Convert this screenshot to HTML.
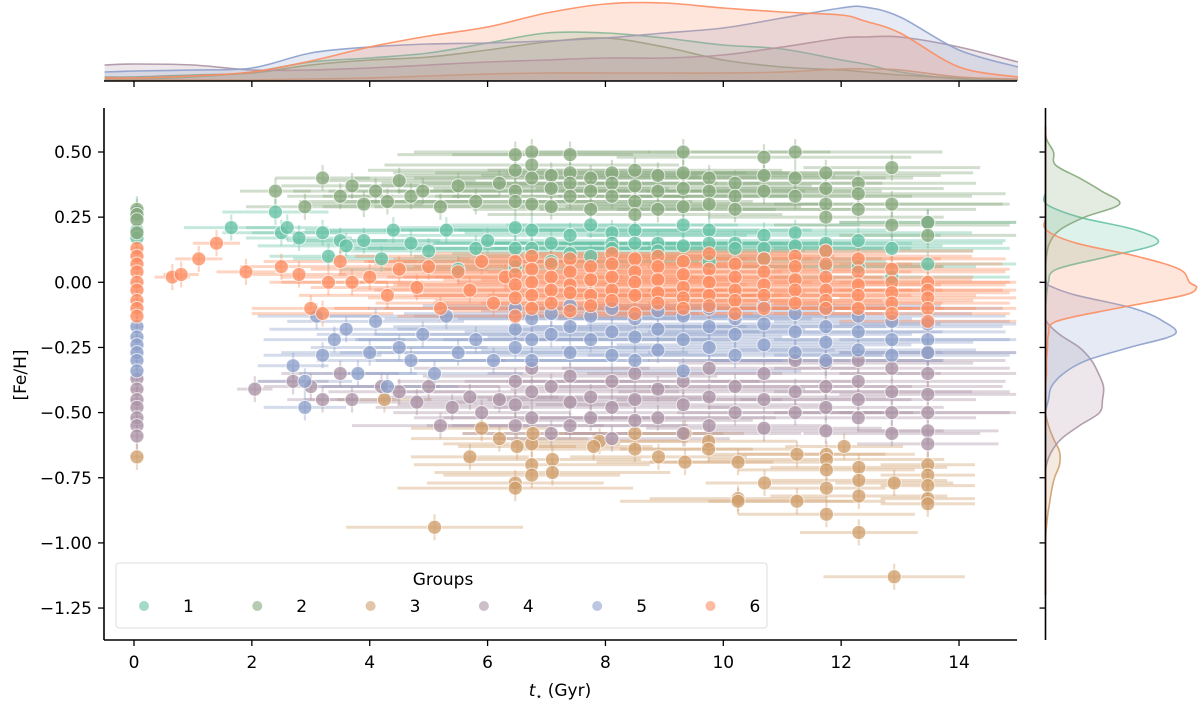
<!DOCTYPE html>
<html><head><meta charset="utf-8"><style>
html,body{margin:0;padding:0;background:#fff;}
svg{display:block;font-family:"DejaVu Sans","Liberation Sans",sans-serif;}
</style></head><body>
<svg id="chart" width="1200" height="702" viewBox="0 0 1200 702" xmlns="http://www.w3.org/2000/svg">
<g id="topM"></g>
<g id="rightM"></g>
<g id="main"></g>
<g id="axes"></g>
<g id="legend"></g>
</svg>
<script>
const groups = ["1","2","3","4","5","6"];
const colors = ["#66c2a5","#86a87c","#cf9f6c","#ab93a5","#8da0cb","#fc8d62"];
const xTicks = [0,2,4,6,8,10,12,14];
const yTicks = [0.5,0.25,0,-0.25,-0.5,-0.75,-1.0,-1.25];
const yTickLabels = ["0.50","0.25","0.00","\u22120.25","\u22120.50","\u22120.75","\u22121.00","\u22121.25"];

// top marginal KDE heights (px above baseline) at kdeAges
const kdeAges = [-0.5,0,1,2,3,4,5,6,7,8,9,10,11,12,12.4,13,14,15];
const topK1 = [2,2,4,9,19,23,28,38,48,48,43,36,32,21,17,9,2,1];
const topK2 = [4,4,6,8,16,21,24,31,39,43,34,21,14,11,9,6,3,1];
const topK3 = [1,1,1,1,2,3,5,7,8,8,8,8,9,12,12,11,4,2];
const topK4 = [16,17,16,11,11,13,16,19,21,23,23,26,34,43,44,44,34,19];
const topK5 = [9,10,11,13,28,34,37,38,40,43,48,53,63,73,74,64,31,14];
const topK6 = [3,3,5,9,20,34,45,54,68,77,78,73,69,66,60,48,14,4];

// right marginal KDE widths at fehs
const kdeFeh = [0.6,0.55,0.5,0.45,0.4,0.35,0.3,0.25,0.2,0.15,0.1,0.05,0,-0.02,-0.05,-0.1,-0.15,-0.2,-0.25,-0.3,-0.35,-0.4,-0.45,-0.5,-0.55,-0.6,-0.65,-0.7,-0.75,-0.8,-0.85,-0.9,-1.0,-1.2];
const rK1 = [0,0,0,0,0,0,1,34,91,112,64,11,3,2,1,0,0,0,0,0,0,0,0,0,0,0,0,0,0,0,0,0,0,0];
const rK2 = [0,1,8,10,34,56,74,39,14,4,1,0,0,0,0,0,0,0,0,0,0,0,0,0,0,0,0,0,0,0,0,0,0,0];
const rK3 = [0,0,0,0,0,0,0,0,0,0,0,0,0,0,0,0,0,0,0,0,0,0,0,0,3,8,14,14,9,6,4,2,0,0];
const rK4 = [0,0,0,0,0,0,0,0,0,0,0,0,0,0,0,0,1,14,34,46,53,58,57,54,34,16,6,1,0,0,0,0,0,0];
const rK5 = [0,0,0,0,0,0,0,0,0,0,0,0,1,8,31,88,118,129,84,41,18,6,3,0,0,0,0,0,0,0,0,0,0,0];
const rK6 = [0,0,0,0,0,0,0,0,1,31,91,134,144,151,138,71,11,3,2,1,1,0,0,0,0,0,0,0,0,0,0,0,0,0];

// scatter points: [age, feh, age error]
const g1 = [[0.05,0.27,0.1],[0.05,0.25,0.1],[0.05,0.20,0.1],[0.05,0.17,0.1],[1.65,0.21,0.8],[2.4,0.27,0.9],[2.5,0.19,1.0],[2.6,0.21,0.7],[2.8,0.17,0.9],[3.2,0.19,1.2],[3.5,0.16,0.8],[3.3,0.10,1.0],[3.6,0.14,1.5],[3.9,0.16,1.3],[4.2,0.09,1.5],[4.4,0.20,1.5],[4.7,0.15,2],[5.0,0.12,1.5],[5.3,0.20,2],[5.5,0.05,2],[5.8,0.13,2.2],[6.0,0.16,2],
[6.47,0.21,2],[6.47,0.13,2.5],[6.47,0.06,2],[6.75,0.20,2.5],[6.75,0.13,3],[7.08,0.15,2],[7.08,0.08,2.5],[7.4,0.18,3],[7.4,0.11,2],[7.75,0.22,2.5],[7.75,0.10,3],[8.11,0.19,2.5],[8.11,0.15,3],[8.11,0.13,2],[8.5,0.20,3],[8.5,0.15,2.5],[8.89,0.15,3],[8.89,0.12,2.5],[9.32,0.22,3],[9.32,0.14,2.5],[9.76,0.20,3],[9.76,0.15,2.5],[9.76,0.08,3],[10.2,0.15,3],[10.2,0.13,2.5],[10.69,0.18,3],[10.69,0.13,2.5],[10.69,0.09,2],[11.22,0.19,3],[11.22,0.14,2.5],[11.74,0.15,3],[11.74,0.12,2.5],[11.74,0.06,2],[12.29,0.16,2.5],[12.29,0.06,2],[12.86,0.13,2],[12.86,0.02,2],[13.47,0.23,1.5],[13.47,0.07,1.5]];
const g2 = [[0.05,0.28,0.1],[0.05,0.26,0.1],[0.05,0.24,0.1],[0.05,0.19,0.1],[2.4,0.35,0.6],[2.9,0.29,1],[3.2,0.40,0.8],[3.5,0.33,0.9],[3.7,0.37,1.2],[3.9,0.30,1],[4.1,0.35,1.4],[4.3,0.31,1.5],[4.5,0.39,1.3],[4.7,0.33,1.5],[4.9,0.35,1.6],[5.2,0.29,2],[5.5,0.37,1.8],[5.8,0.31,2],[6.2,0.38,2],
[6.47,0.49,2],[6.47,0.43,2.5],[6.47,0.35,2],[6.47,0.31,3],[6.75,0.50,2],[6.75,0.45,2.5],[6.75,0.40,3],[6.75,0.30,2],[7.08,0.41,2.5],[7.08,0.36,2],[7.08,0.29,3],[7.4,0.49,2],[7.4,0.42,3],[7.4,0.38,2.5],[7.4,0.33,2],[7.75,0.40,3],[7.75,0.35,2.5],[7.75,0.28,2],[8.11,0.42,3],[8.11,0.38,2.5],[8.11,0.33,3],[8.5,0.43,2.5],[8.5,0.37,3],[8.5,0.31,2],[8.5,0.26,2.5],[8.89,0.41,3],[8.89,0.35,2.5],[8.89,0.28,2],[9.32,0.50,2.5],[9.32,0.42,3],[9.32,0.36,2.5],[9.32,0.29,2],[9.76,0.40,3],[9.76,0.35,2.5],[9.76,0.30,2],[10.2,0.38,2.5],[10.2,0.33,3],[10.2,0.28,2],[10.69,0.48,2.5],[10.69,0.41,3],[10.69,0.35,2],[11.22,0.50,2.5],[11.22,0.40,2],[11.22,0.33,3],[11.74,0.42,2.5],[11.74,0.36,2],[11.74,0.30,3],[11.74,0.25,2],[12.29,0.38,2],[12.29,0.34,2.5],[12.29,0.28,2],[12.86,0.44,1.5],[12.86,0.30,2],[12.86,0.22,2],[13.47,0.23,1.5],[13.47,0.18,1.5]];
const g3 = [[0.05,-0.67,0.1],[4.25,-0.45,0.8],[5.1,-0.94,1.5],[5.7,-0.67,1],[5.9,-0.56,1.2],[6.2,-0.60,1.5],[6.47,-0.77,1.5],[6.47,-0.79,2],[6.5,-0.63,1],[6.75,-0.62,1.5],[6.75,-0.70,2],[6.75,-0.74,1.5],[6.77,-0.58,1.2],[7.1,-0.68,1.5],[7.1,-0.73,2],[7.9,-0.61,1.5],[7.8,-0.63,1],[8.5,-0.58,1.5],[8.5,-0.64,2],[8.9,-0.67,1.5],[9.35,-0.69,1.5],[9.35,-0.58,1],[9.75,-0.61,1.5],[9.75,-0.64,1.5],[10.25,-0.83,1.5],[10.25,-0.84,2],[10.25,-0.69,1.5],[10.7,-0.77,1],[11.25,-0.84,1.5],[11.25,-0.66,1.5],[11.75,-0.66,1.5],[11.75,-0.68,2],[11.75,-0.72,1.5],[11.75,-0.79,1],[11.75,-0.89,1.5],[12.05,-0.63,1],[12.3,-0.71,1.5],[12.3,-0.76,1.5],[12.3,-0.82,1.5],[12.3,-0.96,1],[12.9,-0.77,1],[12.9,-1.13,1.2],[13.47,-0.70,0.8],[13.47,-0.74,0.8],[13.47,-0.78,0.8],[13.47,-0.83,0.8],[13.47,-0.85,0.8]];
const g4 = [[0.05,-0.37,0.1],[0.05,-0.41,0.1],[0.05,-0.45,0.1],[0.05,-0.48,0.1],[0.05,-0.52,0.1],[0.05,-0.55,0.1],[0.05,-0.59,0.1],[2.05,-0.41,0.3],[2.7,-0.38,0.6],[3.0,-0.40,0.8],[3.2,-0.45,0.6],[3.5,-0.35,1],[3.7,-0.45,0.8],[4.2,-0.40,1],[4.5,-0.42,1.2],[4.8,-0.46,1],[5.0,-0.40,1.2],[5.2,-0.55,1.5],[5.4,-0.48,1.3],[5.7,-0.44,1.5],[5.9,-0.50,1.5],[6.2,-0.45,1.5],
[6.47,-0.38,2],[6.47,-0.47,2],[6.47,-0.55,1.5],[6.75,-0.33,2],[6.75,-0.42,2.5],[6.75,-0.52,2],[7.08,-0.40,2],[7.08,-0.58,1.5],[7.4,-0.36,2.5],[7.4,-0.46,2],[7.4,-0.55,2],[7.75,-0.44,2],[7.75,-0.52,2.5],[8.11,-0.38,2.5],[8.11,-0.48,2],[8.11,-0.60,2],[8.5,-0.35,2.5],[8.5,-0.45,2.5],[8.5,-0.53,2],[8.89,-0.41,2.5],[8.89,-0.52,2],[9.32,-0.38,3],[9.32,-0.47,2.5],[9.32,-0.58,2],[9.76,-0.33,2.5],[9.76,-0.44,3],[9.76,-0.55,2],[10.2,-0.40,3],[10.2,-0.50,2.5],[10.69,-0.35,3],[10.69,-0.45,2.5],[10.69,-0.56,2],[11.22,-0.30,2.5],[11.22,-0.42,3],[11.22,-0.50,2],[11.74,-0.31,2.5],[11.74,-0.40,3],[11.74,-0.48,2],[11.74,-0.57,2],[12.29,-0.30,2.5],[12.29,-0.38,2.5],[12.29,-0.45,2],[12.29,-0.52,2],[12.86,-0.33,2],[12.86,-0.42,2],[12.86,-0.50,2],[12.86,-0.58,1.5],[13.47,-0.27,1.5],[13.47,-0.35,1.5],[13.47,-0.43,1.5],[13.47,-0.50,1.5],[13.47,-0.57,1.2],[13.47,-0.62,1.2]];
const g5 = [[0.05,-0.17,0.1],[0.05,-0.21,0.1],[0.05,-0.24,0.1],[0.05,-0.27,0.1],[0.05,-0.30,0.1],[0.05,-0.34,0.1],[2.7,-0.32,0.6],[2.9,-0.48,0.7],[2.9,-0.38,0.8],[3.1,-0.13,1],[3.2,-0.28,1],[3.4,-0.22,1.2],[3.6,-0.18,1.3],[3.8,-0.35,1],[4.0,-0.27,1.5],[4.1,-0.15,1.5],[4.3,-0.40,1.2],[4.5,-0.25,1.5],[4.7,-0.30,1.6],[4.9,-0.20,1.8],[5.1,-0.35,1.5],[5.3,-0.13,2],[5.5,-0.27,2],[5.8,-0.22,2],[6.1,-0.30,2],
[6.47,-0.10,2.5],[6.47,-0.18,2],[6.47,-0.25,2.5],[6.75,-0.14,2.5],[6.75,-0.22,3],[6.75,-0.30,2],[7.08,-0.12,2.5],[7.08,-0.20,3],[7.4,-0.09,2.5],[7.4,-0.17,3],[7.4,-0.27,2],[7.75,-0.13,3],[7.75,-0.22,2.5],[8.11,-0.10,3],[8.11,-0.19,2.5],[8.11,-0.28,2],[8.5,-0.14,3],[8.5,-0.21,2.5],[8.5,-0.30,2.5],[8.89,-0.11,3],[8.89,-0.18,2.5],[8.89,-0.26,3],[9.32,-0.13,3],[9.32,-0.22,2.5],[9.32,-0.34,2],[9.76,-0.10,3],[9.76,-0.17,3],[9.76,-0.25,2.5],[10.2,-0.14,3],[10.2,-0.20,3],[10.2,-0.28,2.5],[10.69,-0.09,3],[10.69,-0.16,3],[10.69,-0.24,2.5],[11.22,-0.12,3],[11.22,-0.19,2.5],[11.22,-0.27,2.5],[11.74,-0.10,3],[11.74,-0.17,3],[11.74,-0.23,2.5],[11.74,-0.30,2],[12.29,-0.13,2.5],[12.29,-0.19,2.5],[12.29,-0.26,2],[12.86,-0.15,2],[12.86,-0.22,2],[12.86,-0.28,2],[13.47,-0.16,1.5],[13.47,-0.22,1.5],[13.47,-0.27,1.5]];
const g6 = [[0.05,0.13,0.1],[0.05,0.10,0.1],[0.05,0.07,0.1],[0.05,0.04,0.1],[0.05,0.0,0.1],[0.05,-0.03,0.1],[0.05,-0.07,0.1],[0.05,-0.10,0.1],[0.05,-0.13,0.1],[0.65,0.02,0.3],[0.8,0.03,0.3],[1.1,0.09,0.4],[1.4,0.15,0.4],[1.9,0.04,0.5],[2.5,0.06,0.7],[2.8,0.03,0.8],[3.3,0.0,1],[3.0,-0.10,1],[3.2,-0.12,1.2],[3.5,0.08,1.3],[3.7,0.0,1.2],[4.0,0.02,1.5],[4.3,-0.05,1.5],[4.5,0.05,1.5],[4.8,-0.02,1.8],[5.0,0.06,1.8],[5.2,-0.10,1.8],[5.5,0.04,2],[5.7,-0.03,2],[5.9,0.08,2],[6.1,-0.08,2],[6.3,0.02,2],
[6.47,0.08,2.5],[6.47,0.03,3],[6.47,-0.01,2],[6.47,-0.06,2.5],[6.47,-0.13,2],[6.75,0.10,3],[6.75,0.05,2.5],[6.75,0.0,3],[6.75,-0.05,2],[6.75,-0.10,2.5],[7.08,0.07,3],[7.08,0.02,2.5],[7.08,-0.03,3],[7.08,-0.08,2],[7.4,0.09,3],[7.4,0.04,2.5],[7.4,-0.01,3],[7.4,-0.04,2.5],[7.4,-0.11,2],[7.75,0.06,3],[7.75,0.01,2.5],[7.75,-0.05,3],[7.75,-0.09,2.5],[8.11,0.11,3],[8.11,0.07,2.5],[8.11,0.02,3],[8.11,-0.03,2.5],[8.11,-0.07,3],[8.5,0.09,3],[8.5,0.04,2.5],[8.5,0.0,3],[8.5,-0.05,2.5],[8.5,-0.12,2],[8.89,0.10,3],[8.89,0.06,2.5],[8.89,0.01,3],[8.89,-0.04,2.5],[8.89,-0.08,3],[9.32,0.08,3],[9.32,0.03,2.5],[9.32,-0.02,3],[9.32,-0.06,2.5],[9.32,-0.10,3],[9.76,0.11,3],[9.76,0.05,2.5],[9.76,0.0,3],[9.76,-0.05,2.5],[9.76,-0.09,3],[10.2,0.07,3],[10.2,0.02,2.5],[10.2,-0.03,3],[10.2,-0.07,2.5],[10.2,-0.12,2.5],[10.69,0.09,3],[10.69,0.04,2.5],[10.69,-0.01,3],[10.69,-0.05,2.5],[10.69,-0.10,2.5],[11.22,0.10,3],[11.22,0.06,2.5],[11.22,0.01,3],[11.22,-0.03,2.5],[11.22,-0.08,2.5],[11.74,0.12,2.5],[11.74,0.07,3],[11.74,0.02,2.5],[11.74,-0.03,3],[11.74,-0.07,2.5],[11.74,-0.10,2],[12.29,0.09,2.5],[12.29,0.04,2.5],[12.29,-0.01,2.5],[12.29,-0.05,2],[12.29,-0.10,2],[12.86,0.05,2],[12.86,0.0,2],[12.86,-0.04,2],[12.86,-0.08,2],[12.86,-0.12,2],[13.47,0.0,1.5],[13.47,-0.03,1.5],[13.47,-0.06,1.5],[13.47,-0.10,1.5],[13.47,-0.15,1.5]];
const yErr = 0.05;

const NS = "http://www.w3.org/2000/svg";
const X = t => 134 + 58.93 * t;
const Y = f => 282.3 - 260.6 * f;
const TOPBASE = 81, RBASE = 1045.5;
function mk(tag, attrs, parent){const e=document.createElementNS(NS,tag);for(const k in attrs)e.setAttribute(k,attrs[k]);parent.appendChild(e);return e;}
function smooth(pts){let d="M"+pts[0][0]+","+pts[0][1];for(let i=0;i<pts.length-1;i++){const p0=pts[Math.max(0,i-1)],p1=pts[i],p2=pts[i+1],p3=pts[Math.min(pts.length-1,i+2)];const c1=[p1[0]+(p2[0]-p0[0])/6,p1[1]+(p2[1]-p0[1])/6],c2=[p2[0]-(p3[0]-p1[0])/6,p2[1]-(p3[1]-p1[1])/6];d+=" C"+c1[0].toFixed(1)+","+c1[1].toFixed(1)+" "+c2[0].toFixed(1)+","+c2[1].toFixed(1)+" "+p2[0].toFixed(1)+","+p2[1].toFixed(1);}return d;}

const topM=document.getElementById("topM"), rightM=document.getElementById("rightM"), main=document.getElementById("main"), axes=document.getElementById("axes"), legend=document.getElementById("legend");
const topSets=[topK1,topK2,topK3,topK4,topK5,topK6], rSets=[rK1,rK2,rK3,rK4,rK5,rK6], ptSets=[g1,g2,g3,g4,g5,g6];

topSets.forEach((arr,gi)=>{
  const pts=kdeAges.map((t,i)=>[X(t),TOPBASE-arr[i]]);
  const d=smooth(pts);
  const fill=mk("path",{d:d+" L"+X(15)+","+TOPBASE+" L"+X(-0.5)+","+TOPBASE+" Z",fill:colors[gi],"fill-opacity":0.22,stroke:"none"},topM);
  
  
  const ln=mk("path",{d:d,fill:"none",stroke:colors[gi],"stroke-width":1.6,"stroke-opacity":0.9},topM);
  
  
});
rSets.forEach((arr,gi)=>{
  const pts=kdeFeh.map((f,i)=>[RBASE+arr[i],Y(f)]);
  const d=smooth(pts);
  const fill=mk("path",{d:d+" L"+RBASE+","+Y(-1.2)+" L"+RBASE+","+Y(0.6)+" Z",fill:colors[gi],"fill-opacity":0.22,stroke:"none"},rightM);
  
  
  const ln=mk("path",{d:d,fill:"none",stroke:colors[gi],"stroke-width":1.6,"stroke-opacity":0.9},rightM);
  
  
});

// error bars
ptSets.forEach((arr,gi)=>{
  const g=mk("g",{},main);
  
  
  arr.forEach(p=>{
    const x1=Math.max(104,X(p[0]-p[2])), x2=Math.min(1017,X(p[0]+p[2]));
    const h=mk("line",{x1:x1,x2:x2,y1:Y(p[1]),y2:Y(p[1]),stroke:colors[gi],"stroke-width":3,"stroke-opacity":0.38},g);
    
    
    const v=mk("line",{x1:X(p[0]),x2:X(p[0]),y1:Y(p[1]-yErr),y2:Y(p[1]+yErr),stroke:colors[gi],"stroke-width":2.2,"stroke-opacity":0.38},g);
    
    
  });
});
ptSets.forEach((arr,gi)=>{
  const g=mk("g",{},main);
  
  
  arr.forEach(p=>{
    const c=mk("circle",{cx:X(p[0]),cy:Y(p[1]),r:7,fill:colors[gi],"fill-opacity":0.78,stroke:"#fff","stroke-opacity":0.7,"stroke-width":1},g);
    
    
  });
});

// axes
const sp=(x1,y1,x2,y2,n)=>{const l=mk("line",{x1,y1,x2,y2,stroke:"#000","stroke-width":1.6},axes);};
sp(104,108,104,640,'y-axis-spine');
sp(104,640,1017,640,'x-axis-spine');
sp(104,TOPBASE,1017,TOPBASE,'top-marginal-spine');
sp(RBASE,108,RBASE,640,'right-marginal-spine');
xTicks.forEach(t=>{
  mk("line",{x1:X(t),x2:X(t),y1:640,y2:646,stroke:"#000","stroke-width":1.3},axes);
  mk("line",{x1:X(t),x2:X(t),y1:TOPBASE,y2:TOPBASE+6,stroke:"#000","stroke-width":1.3},axes);
  const tx=mk("text",{x:X(t),y:668,"font-size":17,"text-anchor":"middle",fill:"#000"},axes);
  tx.textContent=t;
  
  
});
yTicks.forEach((f,i)=>{
  mk("line",{x1:98,x2:104,y1:Y(f),y2:Y(f),stroke:"#000","stroke-width":1.3},axes);
  mk("line",{x1:RBASE-6,x2:RBASE,y1:Y(f),y2:Y(f),stroke:"#000","stroke-width":1.3},axes);
  const tx=mk("text",{x:92,y:Y(f)+6,"font-size":17,"text-anchor":"end",fill:"#000"},axes);
  tx.textContent=yTickLabels[i];
  
  
});
const xl=mk("text",{x:560,y:696,"font-size":17,"text-anchor":"middle"},axes);
xl.innerHTML='<tspan font-style="italic">t</tspan><tspan font-size="11" dy="4">\u22c6</tspan><tspan dy="-4"> (Gyr)</tspan>';


const yl=mk("text",{x:26,y:375,"font-size":17,"text-anchor":"middle",transform:"rotate(-90 26 375)"},axes);
yl.textContent="[Fe/H]";



// legend
const box=mk("rect",{x:116,y:563,width:651,height:65,rx:3,fill:"#fff","fill-opacity":0.8,stroke:"#ddd"},legend);


const lt=mk("text",{x:443,y:585,"font-size":17,"text-anchor":"middle"},legend);
lt.textContent="Groups";


groups.forEach((g,i)=>{
  const e=mk("g",{},legend);
  
  
  mk("circle",{cx:144+113.3*i,cy:606,r:5,fill:colors[i],"fill-opacity":0.6},e);
  const t=mk("text",{x:183+113.3*i,y:612,"font-size":17,"text-anchor":"start"},e);
  t.textContent=g;
});
</script>
</body></html>
